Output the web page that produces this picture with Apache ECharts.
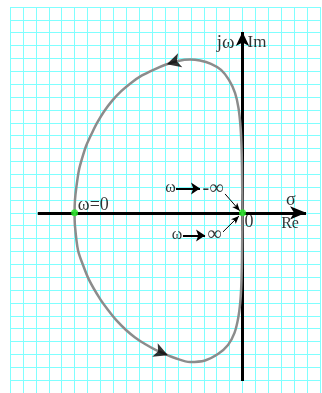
<!DOCTYPE html>
<html>
<head>
<meta charset="utf-8">
<script src="https://cdn.jsdelivr.net/npm/echarts/dist/echarts.min.js"></script>
<style>
  html, body { margin: 0; padding: 0; background: #ffffff; }
  #chart { width: 322px; height: 393px; }
</style>
</head>
<body>
<div id="chart"></div>
<script>
// Nyquist locus, upper half: leaves the origin (ω → -∞), sweeps over the top
// and comes down to the real-axis crossing at ω = 0.
const upperBranch = [
  [0, 0], [-0.02, 1.78], [-0.04, 3.72], [-0.08, 5.28], [-0.15, 6.68],
  [-0.31, 8.15], [-0.58, 9.32], [-1.05, 10.33], [-1.66, 11.11], [-2.44, 11.58],
  [-3.29, 11.84], [-4.06, 11.92], [-4.99, 11.81], [-5.92, 11.53], [-6.85, 11.14],
  [-7.78, 10.68], [-8.63, 10.10], [-9.41, 9.44], [-10.10, 8.70], [-10.72, 7.88],
  [-11.26, 6.99], [-11.65, 6.21], [-12.11, 5.20], [-12.43, 4.20], [-12.66, 3.34],
  [-12.85, 2.10], [-12.97, 1.00], [-13.0, 0]
];
// Lower half: from ω = 0 round the bottom and back into the origin (ω → +∞).
const lowerBranch = [
  [-13.0, 0], [-12.97, -1.02], [-12.74, -2.88], [-12.35, -4.05], [-11.88, -5.21],
  [-11.03, -6.69], [-10.41, -7.55], [-9.72, -8.40], [-9.02, -9.10], [-8.32, -9.68],
  [-7.55, -10.19], [-6.77, -10.62], [-6.00, -10.97], [-5.23, -11.28], [-4.06, -11.59],
  [-2.90, -11.47], [-1.90, -10.97], [-1.12, -10.27], [-0.62, -9.33], [-0.33, -8.16],
  [-0.17, -6.92], [-0.09, -5.60], [-0.04, -3.66], [-0.02, -1.72], [0, 0]
];
// Special points on the locus: ω → ±∞ (origin) and ω = 0.
const keyPoints = [[0, 0], [-13.0, 0]];
// Where the direction-of-travel arrowheads sit on the locus.
const flowMarkers = [[-5.85, 11.5], [-5.77, -11.05]];
// Drawn extent of the real and imaginary axes.
const realAxisSpan = [-15.85, 4.92];
const imagAxisSpan = [-13.06, 14.06];
// Graph-paper range (one cell per unit).
const paperX = [-18, 6];
const paperY = [-14, 16];

const path = upperBranch.concat(lowerBranch.slice(1));

// Snap a marker onto the closest path segment and return the point plus the heading there.
function placeOnPath(p) {
  let best = null, bestD = Infinity;
  for (let i = 0; i < path.length - 1; i++) {
    const a = path[i], b = path[i + 1];
    const vx = b[0] - a[0], vy = b[1] - a[1];
    const len2 = vx * vx + vy * vy;
    if (!len2) continue;
    let t = ((p[0] - a[0]) * vx + (p[1] - a[1]) * vy) / len2;
    t = Math.max(0, Math.min(1, t));
    const qx = a[0] + t * vx, qy = a[1] + t * vy;
    const d = (qx - p[0]) ** 2 + (qy - p[1]) ** 2;
    if (d < bestD) {
      bestD = d;
      best = { value: [qx, qy], angle: Math.atan2(vy, vx) * 180 / Math.PI };
    }
  }
  return best;
}

const serif = '"Liberation Serif", "DejaVu Serif", serif';

function textItem(pos, text, size, extra) {
  return {
    value: pos,
    label: Object.assign({
      show: true, position: 'inside', formatter: text,
      fontFamily: serif, fontSize: size, color: '#000',
      align: 'center', verticalAlign: 'middle'
    }, extra || {})
  };
}

const annotations = [
  textItem([-1.3, 13.21], 'jω', 19),
  textItem([1.12, 13.21], 'Im', 17),
  textItem([3.75, 0.95], 'σ', 18),
  textItem([3.68, -0.86], 'Re', 16),
  textItem([0.50, -0.71], '0', 18),
  textItem([-11.55, 0.61], 'ω=0', 18),
  textItem([-5.57, 1.94], 'ω', 16),
  textItem([-2.28, 1.90], '-∞', 20),
  textItem([-5.07, -1.72], 'ω', 16),
  textItem([-2.17, -1.72], '∞', 20)
];

const chart = echarts.init(document.getElementById('chart'), null, { renderer: 'canvas' });

const paperLine = { show: true, lineStyle: { color: '#80ffff', width: 1 } };

function arrowLine(from, to, head) {
  return [{ coord: from, symbolSize: head }, { coord: to, symbolSize: head }];
}

chart.setOption({
  animation: false,
  backgroundColor: '#ffffff',
  grid: { left: 10, right: 2, top: 7, bottom: 0, containLabel: false },
  xAxis: {
    type: 'value', min: paperX[0], max: paperX[1], interval: 1,
    axisLine: { show: false }, axisTick: { show: false }, axisLabel: { show: false },
    splitLine: paperLine
  },
  yAxis: {
    type: 'value', min: paperY[0], max: paperY[1], interval: 1,
    axisLine: { show: false }, axisTick: { show: false }, axisLabel: { show: false },
    splitLine: paperLine
  },
  series: [
    {
      // Real and imaginary axes with arrowheads
      type: 'line', data: [], z: 3,
      markLine: {
        silent: true, z: 3, animation: false,
        label: { show: false },
        symbol: ['none', 'arrow'],
        data: [
          arrowLine([realAxisSpan[0], 0], [realAxisSpan[1], 0], [10, 16]),
          arrowLine([0, imagAxisSpan[0]], [0, imagAxisSpan[1]], [10, 14])
        ],
        lineStyle: { color: '#000', width: 3, type: 'solid' }
      }
    },
    {
      // Thin pointers from the ω → ±∞ notes into the origin
      type: 'line', data: [], z: 12,
      markLine: {
        silent: true, z: 12, animation: false,
        label: { show: false },
        symbol: ['none', 'arrow'],
        data: [
          arrowLine([-1.35, 1.47], [-0.2, 0.15], [5, 8]),
          arrowLine([-1.51, -1.48], [-0.27, -0.24], [5, 8])
        ],
        lineStyle: { color: '#000', width: 1, type: 'solid' }
      }
    },
    {
      // Arrows inside the "ω → -∞" and "ω → ∞" notes
      type: 'line', data: [], z: 12,
      markLine: {
        silent: true, z: 12, animation: false,
        label: { show: false },
        symbol: ['none', 'arrow'],
        data: [
          arrowLine([-5.15, 1.90], [-3.29, 1.90], [9, 9]),
          arrowLine([-4.61, -1.75], [-2.90, -1.75], [9, 9])
        ],
        lineStyle: { color: '#000', width: 2, type: 'solid' }
      }
    },
    {
      // The Nyquist locus
      type: 'line', data: path, z: 10,
      smooth: 0.3, showSymbol: false, silent: true,
      lineStyle: { color: '#8c8c8c', width: 2.5 }
    },
    {
      // Direction-of-travel arrowheads
      type: 'scatter', z: 11, silent: true,
      symbol: 'arrow', symbolSize: [11, 14],
      itemStyle: { color: '#000' },
      data: flowMarkers.map(p => {
        const s = placeOnPath(p);
        return { value: s.value, symbolRotate: s.angle - 90 };
      })
    },
    {
      type: 'scatter', z: 13, silent: true,
      symbol: 'circle', symbolSize: 7,
      itemStyle: { color: '#22ee22' },
      data: keyPoints
    },
    {
      type: 'scatter', z: 14, silent: true,
      symbolSize: 0, data: annotations
    }
  ]
});
</script>
</body>
</html>
